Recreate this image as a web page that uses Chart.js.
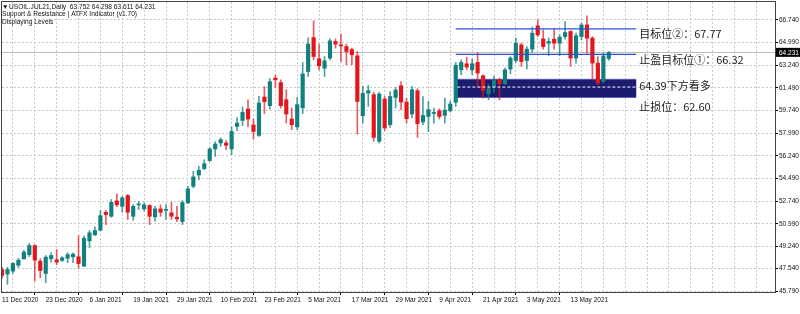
<!DOCTYPE html>
<html>
<head>
<meta charset="utf-8">
<script src="https://cdn.jsdelivr.net/npm/chart.js@4.4.1/dist/chart.umd.min.js"></script>
<style>
  html, body { margin: 0; padding: 0; background: #fff; }
  #wrap { width: 800px; height: 314px; }
</style>
</head>
<body>
<div id="wrap"><canvas id="chart" width="800" height="314"></canvas></div>
<script>
// date labels, one every 8 daily bars (bar 0 = 11 Dec 2020)
const tickLabels = ['11 Dec 2020', '23 Dec 2020', '6 Jan 2021', '19 Jan 2021', '29 Jan 2021',
	'10 Feb 2021', '23 Feb 2021', '5 Mar 2021', '17 Mar 2021', '29 Mar 2021',
	'9 Apr 2021', '21 Apr 2021', '3 May 2021', '13 May 2021'];
const yTicks = [45.79, 47.54, 49.24, 50.99, 52.74, 54.49, 56.24, 57.99, 59.74, 61.49, 63.24, 64.99, 66.74];

const opens = [47.46, 47.10, 47.33, 47.79, 48.29, 48.60, 49.31, 48.10, 47.15, 48.29,
	48.21, 48.16, 48.33, 48.44, 48.44, 47.72, 49.67, 50.14, 50.49, 51.88,
	51.57, 52.76, 52.34, 53.17, 51.57, 52.45, 52.14, 52.40, 51.52, 52.14,
	52.03, 51.83, 51.50, 51.16, 52.61, 53.89, 54.76, 55.25, 55.87, 56.77,
	57.23, 57.23, 56.77, 58.51, 58.97, 59.85, 58.62, 57.82, 60.78, 60.11,
	62.24, 61.90, 60.57, 59.08, 58.47, 59.95, 62.75, 65.37, 63.73, 63.01,
	63.79, 65.07, 64.81, 64.68, 64.45, 63.96, 59.34, 61.09, 60.96, 57.36,
	60.62, 58.64, 60.75, 61.65, 60.39, 59.47, 61.27, 58.85, 59.28, 59.51,
	59.72, 59.36, 59.72, 60.38, 62.88, 63.35, 62.88, 63.45, 62.42, 61.03,
	61.55, 62.11, 61.80, 62.94, 63.60, 64.81, 63.60, 64.48, 66.28, 65.27,
	64.94, 65.25, 64.94, 65.45, 65.84, 63.79, 65.45, 66.35, 65.33, 63.40,
	61.98, 63.752];
const highs = [47.62, 47.62, 48.00, 48.31, 48.93, 49.47, 49.37, 48.29, 48.54, 48.75,
	49.00, 48.46, 48.75, 48.75, 50.06, 50.03, 50.47, 50.75, 52.01, 52.03,
	52.86, 53.30, 53.11, 53.25, 52.47, 52.73, 52.61, 52.47, 52.34, 52.45,
	52.47, 52.65, 52.34, 52.78, 53.89, 55.04, 55.43, 55.94, 56.85, 57.33,
	57.62, 57.41, 58.47, 59.20, 60.01, 60.57, 59.08, 60.83, 61.60, 62.21,
	62.47, 62.11, 61.34, 59.93, 60.75, 63.45, 65.35, 66.66, 64.87, 63.91,
	65.27, 65.27, 65.64, 64.87, 64.56, 64.30, 61.60, 61.67, 61.16, 61.16,
	60.82, 61.21, 61.52, 61.98, 60.70, 61.60, 61.42, 60.82, 60.44, 59.93,
	59.87, 60.70, 60.49, 63.45, 63.65, 63.86, 63.71, 64.22, 62.50, 61.80,
	62.37, 62.24, 63.01, 63.91, 65.33, 64.94, 64.68, 66.18, 66.74, 65.97,
	65.33, 66.02, 65.58, 66.61, 65.91, 65.71, 66.49, 67.05, 65.45, 63.91,
	64.17, 64.298];
const lows = [46.77, 46.31, 47.15, 47.62, 48.23, 48.46, 46.56, 46.82, 46.44, 48.03,
	47.82, 48.08, 47.98, 47.98, 47.56, 47.67, 49.13, 50.08, 50.45, 50.93,
	51.50, 52.30, 51.88, 51.32, 51.26, 52.09, 51.96, 50.93, 51.19, 51.57,
	51.32, 51.32, 51.16, 50.93, 52.55, 53.76, 54.40, 55.17, 55.81, 56.20,
	56.97, 56.72, 56.33, 58.18, 58.57, 58.47, 57.54, 57.74, 59.49, 59.85,
	61.52, 59.93, 58.77, 58.26, 58.26, 59.49, 62.37, 63.65, 62.88, 62.37,
	63.65, 64.56, 63.52, 63.27, 63.27, 57.92, 58.77, 60.05, 57.36, 57.23,
	58.18, 58.43, 59.93, 59.80, 58.77, 59.16, 57.66, 58.64, 58.12, 58.77,
	59.08, 58.77, 59.62, 60.05, 62.50, 62.88, 62.50, 61.55, 60.70, 60.57,
	61.09, 60.57, 61.73, 62.58, 63.45, 63.14, 62.94, 64.22, 65.45, 64.48,
	63.96, 64.48, 63.96, 65.25, 63.14, 63.40, 65.20, 64.17, 62.11, 61.73,
	61.86, 63.611];
const closes = [47.00, 47.46, 47.93, 48.18, 48.80, 49.31, 48.18, 47.38, 48.41, 48.54,
	48.03, 48.36, 48.60, 48.64, 47.92, 49.87, 50.29, 50.47, 51.62, 51.70,
	52.65, 52.45, 52.99, 51.88, 52.34, 52.50, 52.45, 51.57, 52.14, 51.88,
	52.09, 51.57, 51.37, 52.63, 53.68, 54.61, 55.12, 55.63, 56.77, 57.15,
	57.49, 57.05, 58.12, 58.77, 59.59, 59.08, 58.12, 60.32, 60.42, 61.96,
	62.11, 60.11, 59.47, 58.64, 60.19, 62.56, 64.87, 63.91, 63.19, 63.58,
	65.12, 64.87, 64.73, 64.30, 64.04, 60.44, 61.06, 61.27, 57.66, 61.01,
	58.39, 60.82, 61.32, 60.39, 59.11, 61.34, 58.72, 59.36, 59.80, 59.59,
	59.28, 59.77, 60.24, 63.23, 63.45, 63.09, 63.35, 62.63, 61.29, 61.44,
	62.06, 61.80, 62.88, 63.79, 64.94, 63.52, 64.48, 65.71, 65.58, 64.68,
	65.07, 64.94, 65.40, 65.76, 63.79, 65.51, 66.35, 65.33, 63.40, 61.86,
	63.96, 64.231];

const lastPrice = 64.231;
const headerLines = ['USOIL.JUL21,Daily  63.752 64.298 63.611 64.231',
	'Support & Resistance | ATFX Indicator (v1.70)', 'Displaying Levels'];

// levels drawn by the indicator (bar range 83..116)
const levelStart = 83, levelEnd = 116;
const targetLine = 66.05;
const takeProfitLine = 64.08;
const zoneTop = 62.11, zoneBottom = 60.78, zoneMid = 61.55;
const noteTexts = ['目标位②：67.77', '止盈目标位①：66.32', '64.39下方看多', '止损位：62.60'];
const noteLevels = [65.66, 63.65, 61.65, 60.03];

const UP = '#128080', DOWN = '#e3161b';
const isUp = opens.map((o, i) => closes[i] >= o);

const framePlugin = {
	id: 'mt4frame',
	beforeDatasetsDraw(chart) {
		const { ctx, chartArea: a, scales: { x, y } } = chart;
		ctx.save();
		// bid line
		const py = Math.round(y.getPixelForValue(lastPrice)) + 0.5;
		ctx.strokeStyle = '#bdbdbd';
		ctx.lineWidth = 1;
		ctx.beginPath(); ctx.moveTo(a.left, py); ctx.lineTo(a.right, py); ctx.stroke();
		// support zone
		const x1 = x.getPixelForValue(levelStart), x2 = x.getPixelForValue(levelEnd);
		const y1 = y.getPixelForValue(zoneTop), y2 = y.getPixelForValue(zoneBottom);
		ctx.fillStyle = '#6464b4';
		ctx.fillRect(x1, y1 - 1, x2 - x1, y2 - y1 + 2);
		ctx.fillStyle = '#1b1b70';
		ctx.fillRect(x1, y1, x2 - x1, y2 - y1);
		ctx.restore();
	},
	afterDatasetsDraw(chart) {
		const { ctx, scales: { x, y } } = chart;
		ctx.save();
		ctx.font = '11px "Noto Sans CJK SC"';
		ctx.fillStyle = '#1e1e1e';
		ctx.textBaseline = 'middle';
		const tx = x.getPixelForValue(levelEnd + 0.55);
		noteTexts.forEach((t, i) => ctx.fillText(t, tx, y.getPixelForValue(noteLevels[i])));
		ctx.restore();
	},
	afterDraw(chart) {
		const { ctx, chartArea: a, scales: { y } } = chart;
		ctx.save();
		ctx.strokeStyle = '#444';
		ctx.lineWidth = 1;
		ctx.strokeRect(a.left - 0.5, a.top - 0.5, a.right - a.left + 1, a.bottom - a.top + 1);
		// price tag
		const py = y.getPixelForValue(lastPrice);
		ctx.fillStyle = '#000';
		ctx.fillRect(a.right + 1, py - 4.5, 25, 9);
		ctx.fillStyle = '#fff';
		ctx.font = '6.5px "Liberation Sans"';
		ctx.textBaseline = 'middle';
		ctx.fillText(lastPrice.toFixed(3), a.right + 4, py + 0.5);
		// header
		ctx.fillStyle = '#111';
		ctx.font = '6.6px "Liberation Sans", "DejaVu Sans"';
		ctx.fillText('▼', 2, 7);
		ctx.fillText(headerLines[0], 9, 7);
		ctx.fillText(headerLines[1], 2, 14.5);
		ctx.fillText(headerLines[2], 2, 22.3);
		ctx.restore();
	}
};

const noPad = (s) => { s.paddingTop = 0; s.paddingBottom = 0; s.paddingLeft = 0; s.paddingRight = 0; };

const ctx = document.getElementById('chart').getContext('2d');
new Chart(ctx, {
	type: 'bar',
	data: {
		datasets: [
			{
				// target lines
				type: 'line',
				data: [{ x: levelStart, y: targetLine }, { x: levelEnd, y: targetLine }],
				borderColor: '#2d4fd6', borderWidth: 1.3, pointRadius: 0, order: 0
			},
			{
				type: 'line',
				data: [{ x: levelStart, y: takeProfitLine }, { x: levelEnd, y: takeProfitLine }],
				borderColor: '#2d4fd6', borderWidth: 1.3, pointRadius: 0, order: 0
			},
			{
				type: 'line',
				data: [{ x: levelStart + 0.3, y: zoneMid }, { x: levelEnd, y: zoneMid }],
				borderColor: '#ffffff', borderWidth: 1, borderDash: [3, 2], pointRadius: 0, order: 1
			},
			{
				// bodies
				data: opens.map((o, i) => ({ x: i, y: [o, closes[i]] })),
				backgroundColor: isUp.map(u => u ? UP : DOWN),
				barThickness: 3.5, minBarLength: 1, grouped: false, order: 2
			},
			{
				// wicks
				data: lows.map((l, i) => ({ x: i, y: [l, highs[i]] })),
				backgroundColor: isUp.map(u => u ? 'rgba(18,128,128,0.75)' : 'rgba(227,22,27,0.7)'),
				barThickness: 1, grouped: false, order: 3
			}
		]
	},
	options: {
		responsive: false,
		animation: false,
		layout: { padding: { left: 2, top: 2, right: 0, bottom: 0 } },
		plugins: { legend: { display: false }, tooltip: { enabled: false } },
		scales: {
			x: {
				type: 'linear',
				offset: false,
				min: 0,
				max: 141.4,
				afterBuildTicks: (s) => {
					const t = [];
					for (let i = 0; i <= 140; i += 4) t.push({ value: i });
					s.ticks = t;
				},
				afterFit: (s) => { s.height = 22; noPad(s); },
				grid: {
					color: '#c9c9c9',
					tickLength: 3,
					tickColor: (c) => (c.tick && c.tick.value % 8 === 0 && c.tick.value / 8 < tickLabels.length) ? '#000' : 'rgba(0,0,0,0)'
				},
				border: { display: false, dash: [2, 2] },
				ticks: {
					autoSkip: false,
					maxRotation: 0,
					minRotation: 0,
					align: 'start',
					padding: 1,
					color: '#111',
					font: { family: 'Liberation Sans', size: 6.5 },
					callback: (v) => (v % 8 === 0 && v / 8 < tickLabels.length) ? tickLabels[v / 8] : ''
				}
			},
			y: {
				position: 'right',
				min: 45.72,
				max: 68.12,
				afterBuildTicks: (s) => { s.ticks = yTicks.map(v => ({ value: v })); },
				afterFit: (s) => { s.width = 25; noPad(s); },
				grid: { color: '#c9c9c9', tickLength: 3, tickColor: '#000' },
				border: { display: false, dash: [2, 2] },
				ticks: {
					padding: 1,
					color: '#111',
					font: { family: 'Liberation Sans', size: 6.5 },
					callback: (v) => v.toFixed(3)
				}
			}
		}
	},
	plugins: [framePlugin]
});
</script>
</body>
</html>
